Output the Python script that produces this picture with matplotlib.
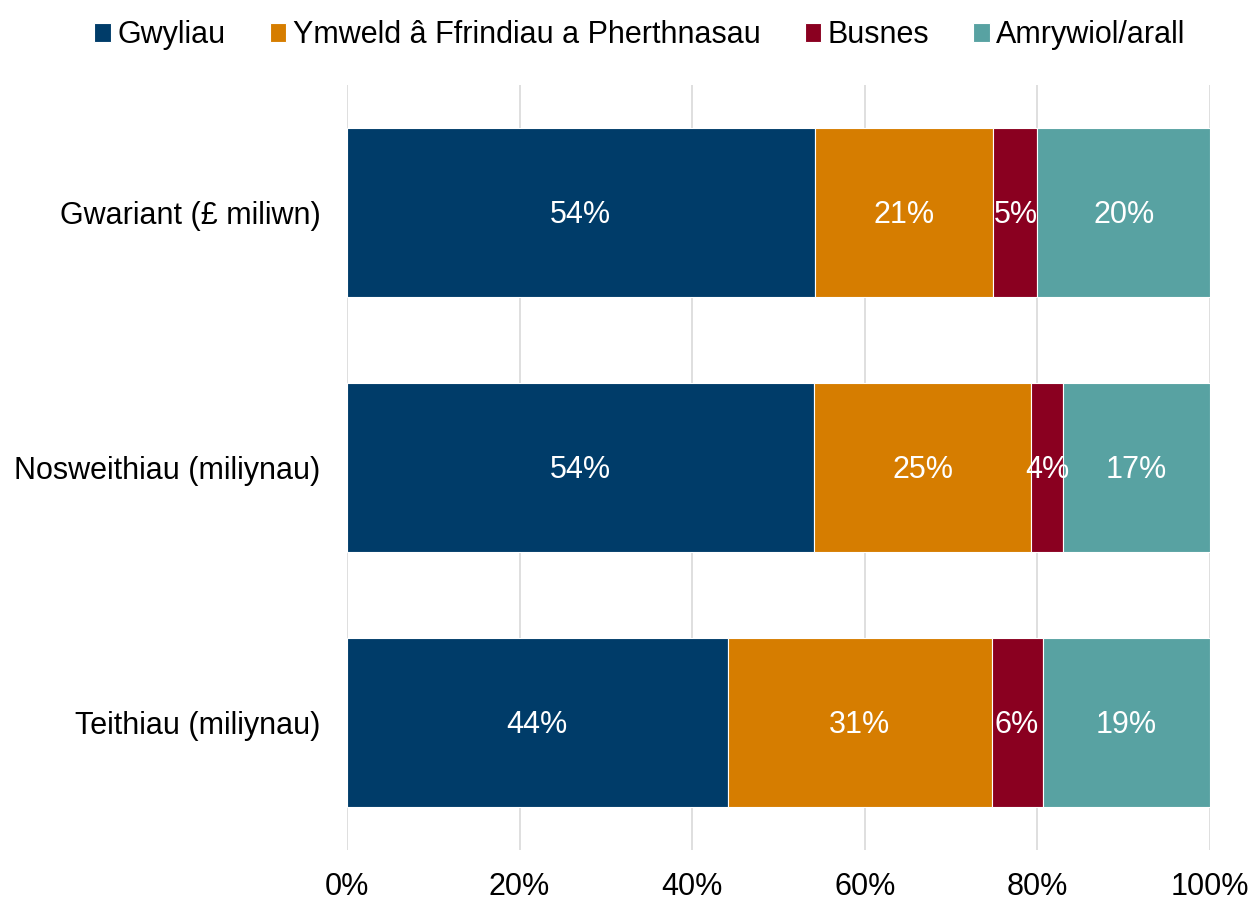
import numpy as np
import matplotlib.pyplot as plt
from matplotlib.ticker import FuncFormatter

plt.rcParams['font.family'] = ['Liberation Sans', 'DejaVu Sans']

categories = ["Gwariant (£ miliwn)", "Nosweithiau (miliynau)", "Teithiau (miliynau)"]
series_names = ["Gwyliau", "Ymweld â Ffrindiau a Pherthnasau", "Busnes", "Amrywiol/arall"]
gwyliau = [54.2, 54.1, 44.1]
ymweld = [20.7, 25.2, 30.6]
busnes = [5.1, 3.7, 5.9]
arall = [20.0, 17.0, 19.4]
colours = ["#003C69", "#D67D00", "#8A0020", "#58A2A2"]

series = [gwyliau, ymweld, busnes, arall]

fig = plt.figure(figsize=(12.5, 9), dpi=100)
ax = fig.add_axes([0.2776, 0.0556, 0.6904, 0.85])

y = np.arange(len(categories))
left = np.zeros(len(categories))
handles = []
for name, vals, col in zip(series_names, series, colours):
    vals = np.array(vals)
    bars = ax.barh(y, vals, left=left, height=0.665, color=col,
                   edgecolor="white", linewidth=0.8, label=name, zorder=2)
    handles.append(bars)
    for yi, l, v in zip(y, left, vals):
        ax.text(l + v / 2, yi + 0.01, f"{round(v):.0f}%", ha="center", va="center",
                color="white", fontsize=22, zorder=3)
    left = left + vals

ax.set_xlim(0, 100)
ax.set_ylim(2.5, -0.5)
ax.set_xticks(np.arange(0, 101, 20))
ax.xaxis.set_major_formatter(FuncFormatter(lambda v, p: f"{v:.0f}%"))
ax.set_yticks(y)
ax.set_yticklabels(categories)
ax.tick_params(axis="both", length=0, labelsize=22, colors="black")
ax.tick_params(axis="x", pad=16)
ax.tick_params(axis="y", pad=19)
ax.grid(axis="x", color="#D9D9D9", linewidth=1.2, zorder=0)
ax.set_axisbelow(True)
for s in ax.spines.values():
    s.set_visible(False)

fig.legend(handles=handles, labels=series_names, loc="upper center",
           bbox_to_anchor=(0.512, 1.008), ncol=4, frameon=False, fontsize=22,
           handlelength=0.55, handleheight=0.55, handletextpad=0.2,
           columnspacing=1.45)

fig.savefig("out.png", dpi=100)
